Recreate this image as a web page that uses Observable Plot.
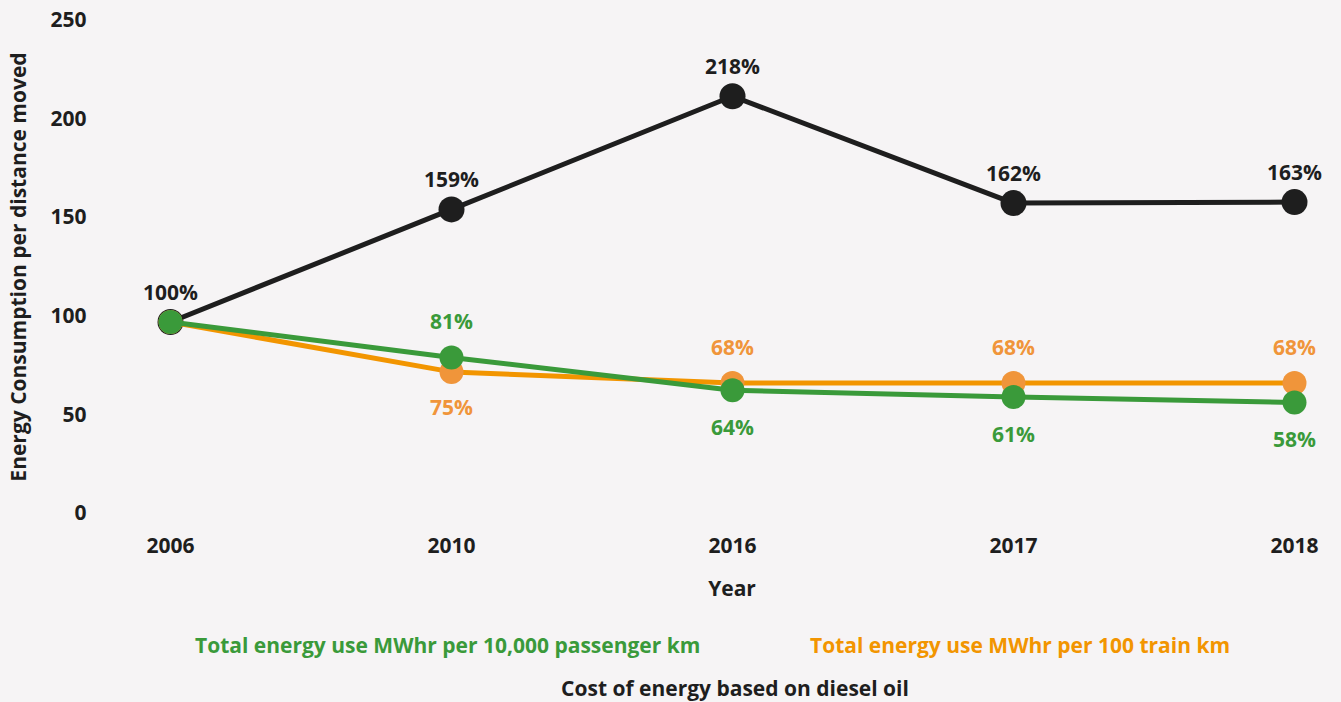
<!DOCTYPE html>
<html>
<head>
<meta charset="utf-8">
<script src="https://cdn.jsdelivr.net/npm/d3@7"></script>
<script src="https://cdn.jsdelivr.net/npm/@observablehq/plot@0.6"></script>
<style>
  html, body { margin: 0; padding: 0; background: #f6f4f5; }
  body { width: 1341px; height: 702px; position: relative; overflow: hidden; font-family: "Open Sans", sans-serif; font-weight: 700; }
  #chart { position: absolute; left: 0; top: 0; }
  .legend { position: absolute; font-size: 21px; font-weight: 700; white-space: nowrap; line-height: 1; }
</style>
</head>
<body>
<div id="chart"></div>
<div class="legend" id="leg-passenger" style="left:195px; top:635px; color:#3a9a3a;"></div>
<div class="legend" id="leg-train" style="left:810px; top:635px; color:#f29500;"></div>
<div class="legend" id="leg-cost" style="left:0; width:1470px; text-align:center; top:678px; color:#1e1e1e;"></div>
<script>
const years = ["2006", "2010", "2016", "2017", "2018"];
const costValues = [97.1, 154.2, 211.6, 157.4, 157.9];
const costLabels = ["100%", "159%", "218%", "162%", "163%"];
const passengerValues = [97.1, 79.1, 62.5, 59.1, 56.3];
const passengerLabels = ["100%", "81%", "64%", "61%", "58%"];
const trainValues = [97.1, 71.8, 66.2, 66.2, 66.2];
const trainLabels = ["100%", "75%", "68%", "68%", "68%"];
const yTicks = [0, 50, 100, 150, 200, 250];
const seriesNames = {
  passenger: "Total energy use MWhr per 10,000 passenger km",
  train: "Total energy use MWhr per 100 train km",
  cost: "Cost of energy based on diesel oil"
};

const BLACK = "#1e1e1e", GREEN = "#3a9a3a", ORANGE_LINE = "#f29500", ORANGE_DOT = "#f0953a";

const mk = (vals, labels) => years.map((year, i) => ({year, value: vals[i], label: labels[i], i}));
const cost = mk(costValues, costLabels);
const passenger = mk(passengerValues, passengerLabels);
const train = mk(trainValues, trainLabels);

// label placement: black always above; of green/orange the higher gets the label above, first year shared (no label)
const passAbove = passenger.filter(d => d.i > 0 && d.value > trainValues[d.i]);
const passBelow = passenger.filter(d => d.i > 0 && d.value <= trainValues[d.i]);
const trainAbove = train.filter(d => d.i > 0 && d.value > passengerValues[d.i]);
const trainBelow = train.filter(d => d.i > 0 && d.value <= passengerValues[d.i]);

const chart = Plot.plot({
  width: 1341,
  height: 610,
  marginLeft: 168,
  marginRight: 46,
  marginTop: 20,
  marginBottom: 97,
  style: {background: "#f6f4f5", fontFamily: "Open Sans", fontWeight: 700, fontSize: "21px", color: BLACK},
  x: {type: "point", domain: years, padding: 0, label: "Year", labelAnchor: "center", labelArrow: false, tickSize: 0, tickPadding: 25, labelOffset: 82},
  y: {domain: [0, 250], ticks: yTicks, label: "Energy Consumption per distance moved", labelAnchor: "center", labelArrow: false, tickSize: 0, tickPadding: 82, labelOffset: 157},
  marks: [
    Plot.line(cost, {x: "year", y: "value", stroke: BLACK, strokeWidth: 5}),
    Plot.dot(cost, {x: "year", y: "value", r: 13, fill: BLACK}),
    Plot.line(train, {x: "year", y: "value", stroke: ORANGE_LINE, strokeWidth: 5}),
    Plot.dot(train, {x: "year", y: "value", r: 12, fill: ORANGE_DOT}),
    Plot.line(passenger, {x: "year", y: "value", stroke: GREEN, strokeWidth: 5}),
    Plot.dot(passenger, {x: "year", y: "value", r: 12, fill: GREEN}),
    Plot.text(cost, {x: "year", y: "value", text: "label", dy: -29, fill: BLACK}),
    Plot.text(passAbove, {x: "year", y: "value", text: "label", dy: -35, fill: GREEN}),
    Plot.text(passBelow, {x: "year", y: "value", text: "label", dy: 38, fill: GREEN}),
    Plot.text(trainAbove, {x: "year", y: "value", text: "label", dy: -35, fill: ORANGE_DOT}),
    Plot.text(trainBelow, {x: "year", y: "value", text: "label", dy: 36, fill: ORANGE_DOT})
  ]
});
document.getElementById("chart").appendChild(chart);
document.getElementById("leg-passenger").textContent = seriesNames.passenger;
document.getElementById("leg-train").textContent = seriesNames.train;
document.getElementById("leg-cost").textContent = seriesNames.cost;
</script>
</body>
</html>
